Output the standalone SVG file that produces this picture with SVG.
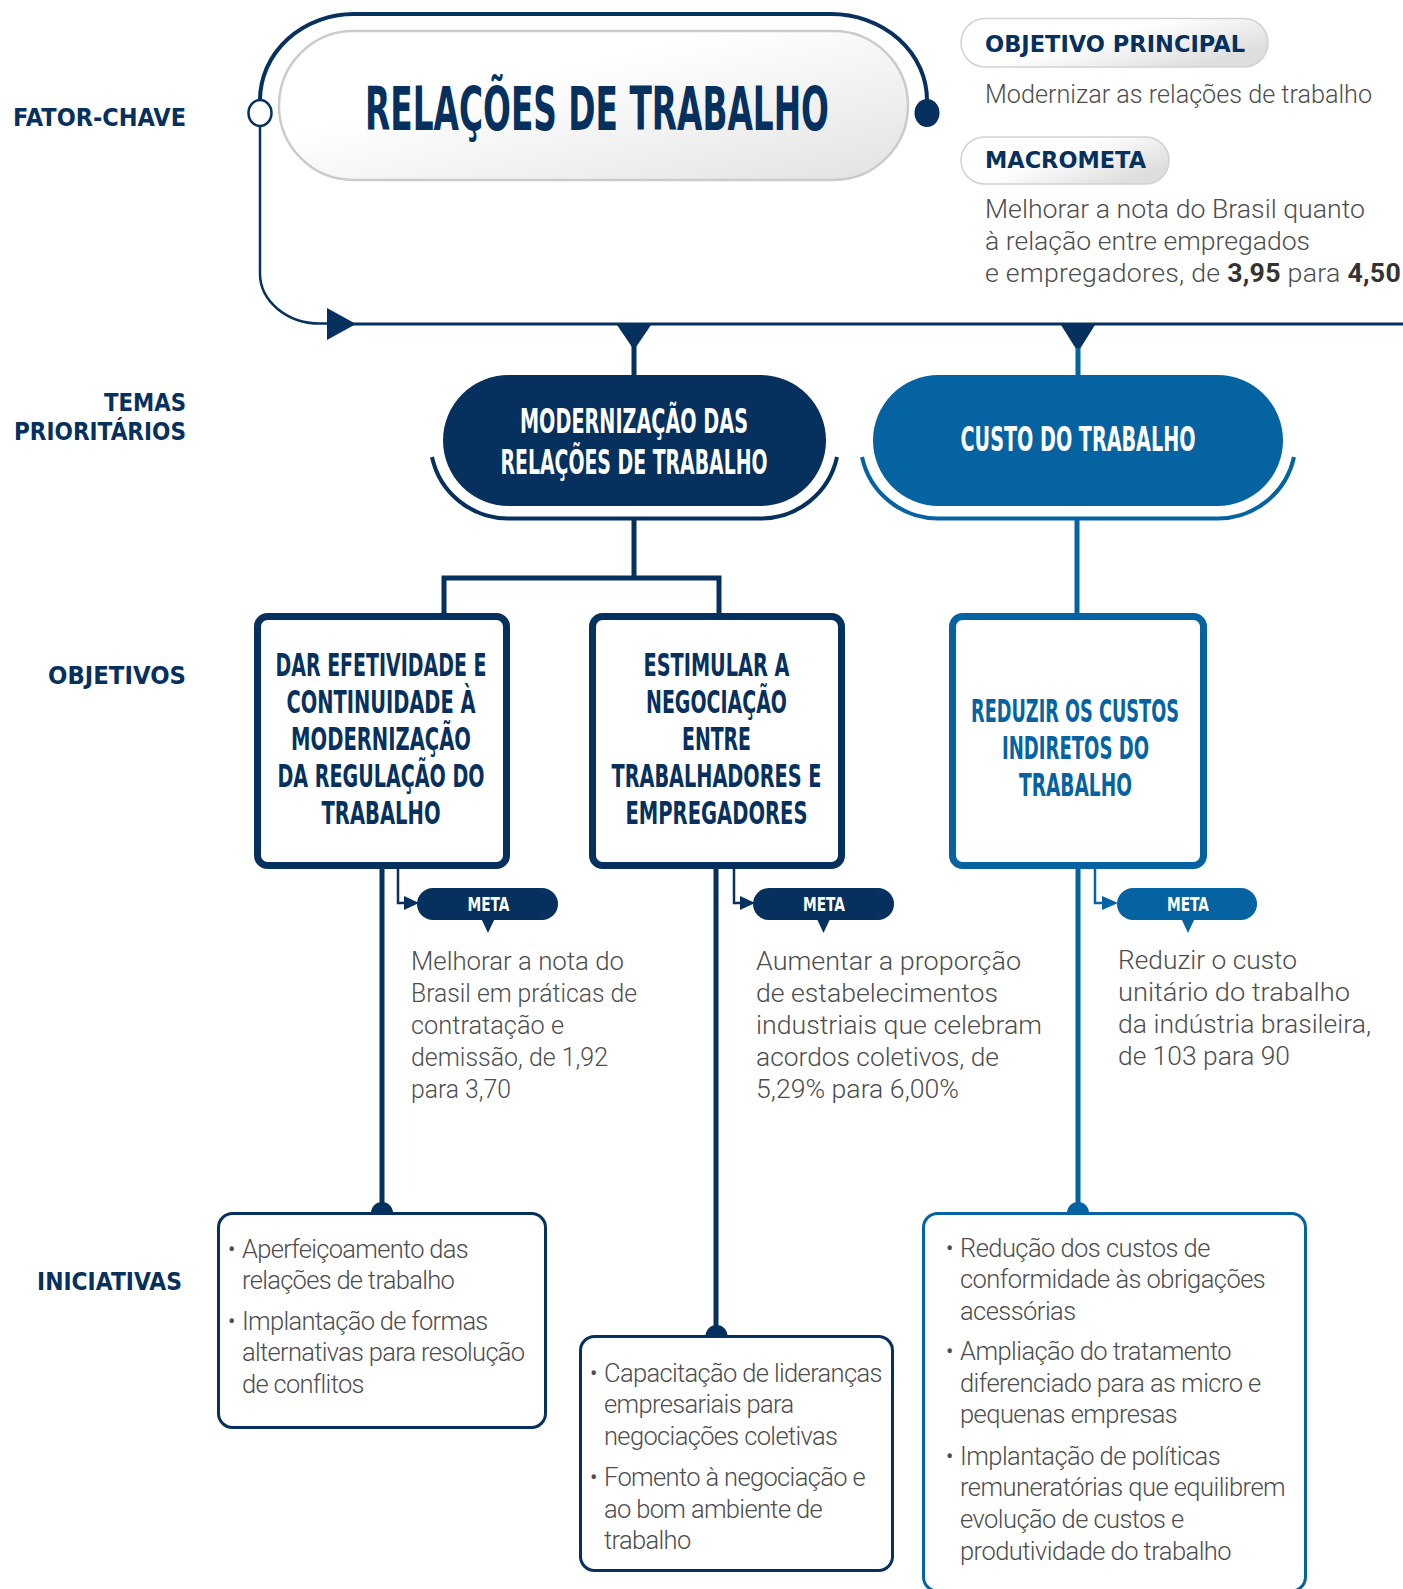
<svg xmlns="http://www.w3.org/2000/svg" width="1403" height="1589" viewBox="0 0 1403 1589">
<defs>
<linearGradient id="gTitle" x1="0" y1="0" x2="1" y2="1">
<stop offset="0.35" stop-color="#ffffff"/>
<stop offset="1" stop-color="#e2e2e2"/>
</linearGradient>
<linearGradient id="gTag" x1="0" y1="0" x2="1" y2="0.6">
<stop offset="0.5" stop-color="#ffffff"/>
<stop offset="1" stop-color="#dedede"/>
</linearGradient>
</defs>
<style>
.navy{fill:#06305d}
.blue{fill:#0563a2}
.lbl{font-family:"DejaVu Sans","Liberation Sans",sans-serif;font-weight:bold;fill:#06305d}
.cond{font-family:"Liberation Sans Narrow","DejaVu Sans Condensed","Liberation Sans",sans-serif;font-weight:bold}
.body{font-family:Roboto,"Open Sans","Liberation Sans",sans-serif;font-weight:300;fill:#4d4d4d}
.bul{font-weight:400}
.ln{fill:none;stroke-linecap:butt}
.nv{stroke:#06305d}
.bl{stroke:#0563a2}
</style>

<!-- Row labels -->
<g id="row-labels">
<text class="lbl" font-size="24" x="186" y="126" text-anchor="end" textLength="173" lengthAdjust="spacingAndGlyphs">FATOR-CHAVE</text>
<text class="lbl" font-size="24" x="186" y="411" text-anchor="end" textLength="82" lengthAdjust="spacingAndGlyphs">TEMAS</text>
<text class="lbl" font-size="24" x="186" y="440" text-anchor="end" textLength="172" lengthAdjust="spacingAndGlyphs">PRIORITÁRIOS</text>
<text class="lbl" font-size="24" x="186" y="684" text-anchor="end" textLength="138" lengthAdjust="spacingAndGlyphs">OBJETIVOS</text>
<text class="lbl" font-size="24" x="182" y="1290" text-anchor="end" textLength="145" lengthAdjust="spacingAndGlyphs">INICIATIVAS</text>
</g>

<!-- Connectors -->
<g id="connectors">
<path class="ln nv" stroke-width="4" d="M260,113 L260,100 A94 86 0 0 1 354,14 L831,14 A96 86 0 0 1 927,100 L927,113"/>
<path class="ln nv" stroke-width="2.5" d="M260,124 L260,273 A60 50 0 0 0 320,323.5 L335,323.5"/>
<polygon class="navy" points="327,308 327,340 356,324"/>
<line class="ln nv" stroke-width="3" x1="340" y1="324" x2="1403" y2="324"/>
<polygon class="navy" points="617,325 651,325 634,350"/>
<polygon class="navy" points="1061,325 1095,325 1078,352"/>
<line class="ln nv" stroke-width="5" x1="634" y1="345" x2="634" y2="376"/>
<line class="ln bl" stroke-width="5" x1="1078" y1="348" x2="1078" y2="376"/>
<ellipse cx="260" cy="113" rx="11.5" ry="13" fill="#ffffff" stroke="#06305d" stroke-width="2.5"/>
<ellipse cx="927" cy="113" rx="12.5" ry="14" class="navy"/>
<path class="ln nv" stroke-width="4" d="M432,457 A78 78 0 0 0 508,518.5 L761,518.5 A78 78 0 0 0 837,457"/>
<path class="ln bl" stroke-width="4" d="M862,457 A78 78 0 0 0 938,518.5 L1218,518.5 A78 78 0 0 0 1294,457"/>
<path class="ln nv" stroke-width="5" d="M634,519 L634,578"/>
<path class="ln nv" stroke-width="5" stroke-linejoin="miter" d="M444,614 L444,578 L719,578 L719,614"/>
<line class="ln bl" stroke-width="5" x1="1077" y1="519" x2="1077" y2="614"/>
<line class="ln nv" stroke-width="5" x1="382" y1="868" x2="382" y2="1205"/>
<line class="ln nv" stroke-width="5" x1="716" y1="868" x2="716" y2="1328"/>
<line class="ln bl" stroke-width="5" x1="1078" y1="868" x2="1078" y2="1205"/>
<path class="navy" d="M371,1213 A11 11 0 0 1 393,1213 Z"/>
<path class="navy" d="M705.5,1336 A11 11 0 0 1 727.5,1336 Z"/>
<path class="blue" d="M1067,1213 A11 11 0 0 1 1089,1213 Z"/>
<path class="ln nv" stroke-width="2.5" d="M398,868 L398,903 L406,903"/>
<polygon class="navy" points="404,896 404,910 419,903"/>
<path class="ln nv" stroke-width="2.5" d="M734,868 L734,903 L742,903"/>
<polygon class="navy" points="740,896 740,910 755,903"/>
<path class="ln bl" stroke-width="2.5" d="M1095,868 L1095,903 L1103,903"/>
<polygon class="blue" points="1102,896 1102,910 1118,903"/>
</g>

<!-- Key factor -->
<g id="node-fator">
<rect x="279" y="31" width="629" height="149" rx="74.5" fill="url(#gTitle)" stroke="#cbcbcb" stroke-width="2.5"/>
<text class="cond navy" x="597" y="130" font-size="60" text-anchor="middle" textLength="464" lengthAdjust="spacingAndGlyphs">RELAÇÕES DE TRABALHO</text>
</g>

<g id="node-objetivo-principal">
<rect x="961" y="18.5" width="307" height="48.5" rx="24.25" fill="url(#gTag)" stroke="#d2d2d2" stroke-width="1.5"/>
<text class="lbl" x="985" y="52" font-size="23" textLength="260" lengthAdjust="spacingAndGlyphs">OBJETIVO PRINCIPAL</text>
<text class="body" x="985" y="103" font-size="25" textLength="387" lengthAdjust="spacingAndGlyphs">Modernizar as relações de trabalho</text>
</g>

<g id="node-macrometa">
<rect x="961" y="137" width="208" height="47" rx="23.5" fill="url(#gTag)" stroke="#d2d2d2" stroke-width="1.5"/>
<text class="lbl" x="985" y="168" font-size="23" textLength="161" lengthAdjust="spacingAndGlyphs">MACROMETA</text>
<text class="body" font-size="26.7" x="985" y="218" textLength="380" lengthAdjust="spacingAndGlyphs">Melhorar a nota do Brasil quanto</text>
<text class="body" font-size="26.7" x="985" y="250" textLength="325" lengthAdjust="spacingAndGlyphs">à relação entre empregados</text>
<text class="body" font-size="26.7" x="985" y="282" letter-spacing="0.28">e empregadores, de <tspan font-weight="bold" fill="#333333">3,95</tspan> para <tspan font-weight="bold" fill="#333333">4,50</tspan></text>
</g>

<!-- Themes -->
<g id="node-tema-modernizacao">
<rect x="443" y="375" width="383" height="131" rx="65.5" class="navy"/>
<text class="cond" fill="#ffffff" font-size="34" x="634" y="433" text-anchor="middle" textLength="228" lengthAdjust="spacingAndGlyphs">MODERNIZAÇÃO DAS</text>
<text class="cond" fill="#ffffff" font-size="34" x="634" y="474" text-anchor="middle" textLength="267" lengthAdjust="spacingAndGlyphs">RELAÇÕES DE TRABALHO</text>
</g>

<g id="node-tema-custo">
<rect x="873" y="375" width="410" height="131" rx="65.5" class="blue"/>
<text class="cond" fill="#ffffff" font-size="34" x="1078" y="451" text-anchor="middle" textLength="235" lengthAdjust="spacingAndGlyphs">CUSTO DO TRABALHO</text>
</g>

<!-- Objectives -->
<g id="node-obj-efetividade">
<rect x="257.5" y="616.5" width="249" height="249" rx="10" fill="#ffffff" stroke="#06305d" stroke-width="7"/>
<g class="cond navy" font-size="32" text-anchor="middle">
<text x="381" y="676" textLength="211" lengthAdjust="spacingAndGlyphs">DAR EFETIVIDADE E</text>
<text x="381" y="713" textLength="189" lengthAdjust="spacingAndGlyphs">CONTINUIDADE À</text>
<text x="381" y="750" textLength="180" lengthAdjust="spacingAndGlyphs">MODERNIZAÇÃO</text>
<text x="381" y="787" textLength="207" lengthAdjust="spacingAndGlyphs">DA REGULAÇÃO DO</text>
<text x="381" y="824" textLength="119" lengthAdjust="spacingAndGlyphs">TRABALHO</text>
</g>
</g>

<g id="node-obj-negociacao">
<rect x="592.5" y="616.5" width="249" height="249" rx="10" fill="#ffffff" stroke="#06305d" stroke-width="7"/>
<g class="cond navy" font-size="32" text-anchor="middle">
<text x="716.5" y="676" textLength="146" lengthAdjust="spacingAndGlyphs">ESTIMULAR A</text>
<text x="716.5" y="713" textLength="141" lengthAdjust="spacingAndGlyphs">NEGOCIAÇÃO</text>
<text x="716.5" y="750" textLength="69" lengthAdjust="spacingAndGlyphs">ENTRE</text>
<text x="716.5" y="787" textLength="210" lengthAdjust="spacingAndGlyphs">TRABALHADORES E</text>
<text x="716.5" y="824" textLength="182" lengthAdjust="spacingAndGlyphs">EMPREGADORES</text>
</g>
</g>

<g id="node-obj-custos">
<rect x="952.5" y="616.5" width="251" height="249" rx="10" fill="#ffffff" stroke="#0563a2" stroke-width="7"/>
<g class="cond blue" font-size="32" text-anchor="middle">
<text x="1075" y="722" textLength="208" lengthAdjust="spacingAndGlyphs">REDUZIR OS CUSTOS</text>
<text x="1075.5" y="759" textLength="147" lengthAdjust="spacingAndGlyphs">INDIRETOS DO</text>
<text x="1075.5" y="796" textLength="113" lengthAdjust="spacingAndGlyphs">TRABALHO</text>
</g>
</g>

<!-- Metas -->
<g id="node-meta-1">
<rect x="417" y="888" width="141" height="32" rx="16" class="navy"/>
<polygon class="navy" points="481,918 495,918 488,933"/>
<text class="cond" fill="#ffffff" font-size="19" x="488.5" y="911" text-anchor="middle" textLength="42" lengthAdjust="spacingAndGlyphs">META</text>
<g class="body" font-size="25.5">
<text x="411" y="970" textLength="213" lengthAdjust="spacingAndGlyphs">Melhorar a nota do</text>
<text x="411" y="1002" textLength="226" lengthAdjust="spacingAndGlyphs">Brasil em práticas de</text>
<text x="411" y="1034" textLength="153" lengthAdjust="spacingAndGlyphs">contratação e</text>
<text x="411" y="1066" textLength="197" lengthAdjust="spacingAndGlyphs">demissão, de 1,92</text>
<text x="411" y="1098" textLength="100" lengthAdjust="spacingAndGlyphs">para 3,70</text>
</g>
</g>

<g id="node-meta-2">
<rect x="753" y="888" width="141" height="32" rx="16" class="navy"/>
<polygon class="navy" points="816.5,918 830.5,918 823.5,933"/>
<text class="cond" fill="#ffffff" font-size="19" x="824" y="911" text-anchor="middle" textLength="42" lengthAdjust="spacingAndGlyphs">META</text>
<g class="body" font-size="26">
<text x="756" y="970" textLength="265" lengthAdjust="spacingAndGlyphs">Aumentar a proporção</text>
<text x="756" y="1002" textLength="242" lengthAdjust="spacingAndGlyphs">de estabelecimentos</text>
<text x="756" y="1034" textLength="286" lengthAdjust="spacingAndGlyphs">industriais que celebram</text>
<text x="756" y="1066" textLength="243" lengthAdjust="spacingAndGlyphs">acordos coletivos, de</text>
<text x="756" y="1098" textLength="203" lengthAdjust="spacingAndGlyphs">5,29% para 6,00%</text>
</g>
</g>

<g id="node-meta-3">
<rect x="1117" y="888" width="140" height="32" rx="16" class="blue"/>
<polygon class="blue" points="1181,918 1195,918 1188,933"/>
<text class="cond" fill="#ffffff" font-size="19" x="1188" y="911" text-anchor="middle" textLength="42" lengthAdjust="spacingAndGlyphs">META</text>
<g class="body" font-size="26">
<text x="1118" y="969" textLength="179" lengthAdjust="spacingAndGlyphs">Reduzir o custo</text>
<text x="1118" y="1001" textLength="232" lengthAdjust="spacingAndGlyphs">unitário do trabalho</text>
<text x="1118" y="1033" textLength="253" lengthAdjust="spacingAndGlyphs">da indústria brasileira,</text>
<text x="1118" y="1065" textLength="172" lengthAdjust="spacingAndGlyphs">de 103 para 90</text>
</g>
</g>

<!-- Initiatives -->
<g id="node-ini-1">
<rect x="218.5" y="1213.5" width="327" height="214" rx="14" fill="#ffffff" stroke="#06305d" stroke-width="3"/>
<text class="body" font-size="25.5" letter-spacing="-0.7">
<tspan class="bul" font-size="22" x="228" y="1257">•</tspan><tspan x="242" y="1258">Aperfeiçoamento das</tspan>
<tspan x="242" y="1289">relações de trabalho</tspan>
<tspan class="bul" font-size="22" x="228" y="1329">•</tspan><tspan x="242" y="1330">Implantação de formas</tspan>
<tspan x="242" y="1361">alternativas para resolução</tspan>
<tspan x="242" y="1393">de conflitos</tspan>
</text>
</g>

<g id="node-ini-2">
<rect x="580.5" y="1336.5" width="312" height="234" rx="14" fill="#ffffff" stroke="#06305d" stroke-width="3"/>
<text class="body" font-size="25.5" letter-spacing="-0.65">
<tspan class="bul" font-size="22" x="590" y="1381">•</tspan><tspan x="604" y="1382">Capacitação de lideranças</tspan>
<tspan x="604" y="1413">empresariais para</tspan>
<tspan x="604" y="1445">negociações coletivas</tspan>
<tspan class="bul" font-size="22" x="590" y="1485">•</tspan><tspan x="604" y="1486">Fomento à negociação e</tspan>
<tspan x="604" y="1518">ao bom ambiente de</tspan>
<tspan x="604" y="1549">trabalho</tspan>
</text>
</g>

<g id="node-ini-3">
<rect x="923.5" y="1213.5" width="382" height="377.5" rx="14" fill="#ffffff" stroke="#0563a2" stroke-width="3"/>
<text class="body" font-size="25.5" letter-spacing="-0.55">
<tspan class="bul" font-size="22" x="946" y="1256">•</tspan><tspan x="960" y="1257">Redução dos custos de</tspan>
<tspan x="960" y="1288">conformidade às obrigações</tspan>
<tspan x="960" y="1320">acessórias</tspan>
<tspan class="bul" font-size="22" x="946" y="1359">•</tspan><tspan x="960" y="1360">Ampliação do tratamento</tspan>
<tspan x="960" y="1392">diferenciado para as micro e</tspan>
<tspan x="960" y="1423">pequenas empresas</tspan>
<tspan class="bul" font-size="22" x="946" y="1464">•</tspan><tspan x="960" y="1465">Implantação de políticas</tspan>
<tspan x="960" y="1496">remuneratórias que equilibrem</tspan>
<tspan x="960" y="1528">evolução de custos e</tspan>
<tspan x="960" y="1560">produtividade do trabalho</tspan>
</text>
</g>
</svg>
